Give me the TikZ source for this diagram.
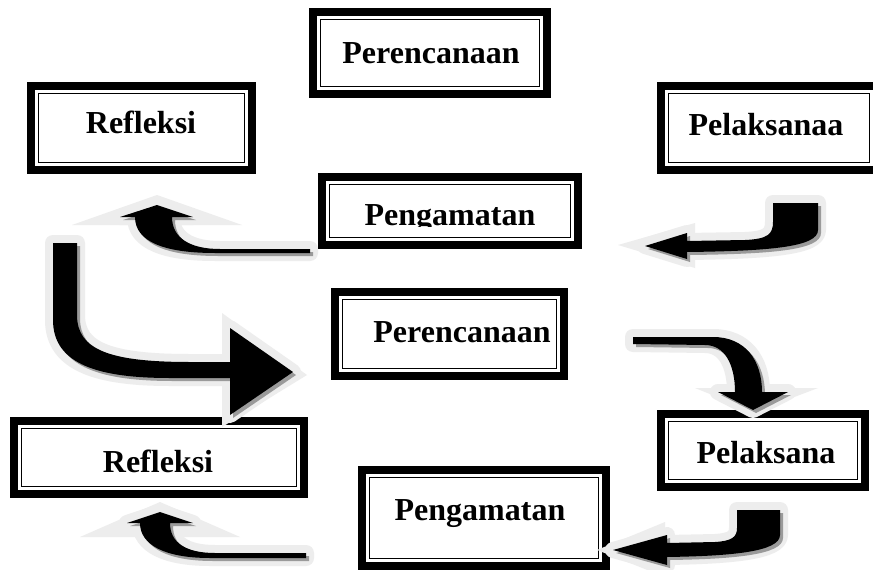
\documentclass[tikz,border=0pt]{standalone}
\usepackage{fontspec}
\setmainfont{Liberation Serif}
\definecolor{glowc}{HTML}{EDEDED}
\definecolor{shadowc}{HTML}{9A9A9A}
\newcommand\blockarrow[2]{%
  \fill[glowc] #2;
  \draw[glowc, line width=16pt, line join=round] #1;
  \fill[glowc] #1;
  \fill[shadowc, shift={(3,3)}] #1;
  \fill[black] #1;
}
\tikzset{
  dbox/.style={draw=black, line width=8pt, fill=white, inner sep=0pt, outer sep=0pt,
    path picture={\draw[line width=1.8pt]
      ([shift={(7.5pt,-7.5pt)}]path picture bounding box.north west) rectangle
      ([shift={(-7.5pt,7.5pt)}]path picture bounding box.south east);}},
  lbl/.style={anchor=base, inner sep=0pt, font=\bfseries\fontsize{32}{38}\selectfont}
}
\begin{document}
\begin{tikzpicture}[x=1pt,y=-1pt]
\clip (0,0) rectangle (873,570);
\fill[white] (0,0) rectangle (873,570);
% boxes
\node[dbox, minimum width=234pt, minimum height=82pt] (b1) at (430,53) {};
\node[lbl] (t1) at (431,63) {Perencanaan};
\node[dbox, minimum width=221pt, minimum height=84pt] (b2) at (141.5,128) {};
\node[lbl] (t2) at (141,133) {Refleksi};
\node[dbox, minimum width=216pt, minimum height=84pt] (b3) at (769,128) {};
\node[lbl] (t3) at (766,135) {Pelaksanaa};
\node[dbox, minimum width=256pt, minimum height=68pt] (b4) at (450,211) {};
\begin{scope}
\clip (318,173) rectangle (582,226);
\node[lbl] (t4) at (450,225) {Pengamatan};
\end{scope}
\node[dbox, minimum width=229pt, minimum height=84pt] (b5) at (449.5,334) {};
\node[lbl] (t5) at (462,342) {Perencanaan};
\node[dbox, minimum width=204pt, minimum height=73pt] (b6) at (763,450.5) {};
\node[lbl] (t6) at (766,463) {Pelaksana};
\node[dbox, minimum width=290pt, minimum height=73pt] (b7) at (159,457.5) {};
\node[lbl] (t7) at (158,472) {Refleksi};
\node[dbox, minimum width=244pt, minimum height=96pt] (b8) at (484,518) {};
\node[lbl] (t8) at (480,520) {Pengamatan};
% arrows
% A1: Pengamatan (top) -> Refleksi (top)
\blockarrow{(120,217) -- (157,205) -- (193,217) -- (172,217) .. controls (172,238) and (190,249) .. (220,249) -- (310,249) -- (310,253) -- (215,253) .. controls (165,253) and (135,242) .. (135,217) -- cycle}
{(72,225) -- (157,195) -- (242,225) -- cycle}
% A2: Pelaksanaa -> Pengamatan (top)
\blockarrow{(818,203) -- (818,230) .. controls (818,247) and (770,251) .. (687,252) -- (687,259) -- (645,246) -- (687,233) -- (687,241) -- (745,240) .. controls (768,239) and (773,234) .. (773,222) -- (773,203) -- cycle}
{(618,245) -- (695,223) -- (695,268) -- cycle}
% A3: Refleksi (top) -> Perencanaan (mid)
\blockarrow{(53,243) -- (53,320) .. controls (53,365) and (100,378) .. (170,378) -- (230,378) -- (230,415) -- (293,372) -- (230,328) -- (230,362) -- (190,362) .. controls (110,362) and (77,350) .. (77,315) -- (77,243) -- cycle}
{(222,313) -- (307,375) -- (222,427) -- cycle}
% A4: Perencanaan (mid) -> Pelaksana
\blockarrow{(633,337) -- (713,337) .. controls (745,337) and (762,360) .. (762,392) -- (788,392) -- (753,410) -- (718,392) -- (735,392) .. controls (735,365) and (725,345) .. (705,345) -- (633,344) -- cycle}
{(695,388) -- (818,388) -- (755,412) -- cycle}
% A5: Pelaksana -> Pengamatan (bottom)
\blockarrow{(780,510) -- (780,535) .. controls (780,552) and (730,556) .. (667,557) -- (667,565) -- (613,550) -- (667,535) -- (667,543) -- (715,542) .. controls (732,541) and (737,537) .. (737,528) -- (737,510) -- cycle}
{(597,550) -- (665,522) -- (665,577) -- cycle}
% A6: Pengamatan (bottom) -> Refleksi (bottom)
\blockarrow{(127,523) -- (160,512) -- (193,523) -- (170,523) .. controls (170,542) and (185,553) .. (215,553) -- (306,553) -- (306,558) -- (210,558) .. controls (165,558) and (140,545) .. (140,523) -- cycle}
{(80,537) -- (160,502) -- (240,537) -- cycle}
\end{tikzpicture}
\end{document}
